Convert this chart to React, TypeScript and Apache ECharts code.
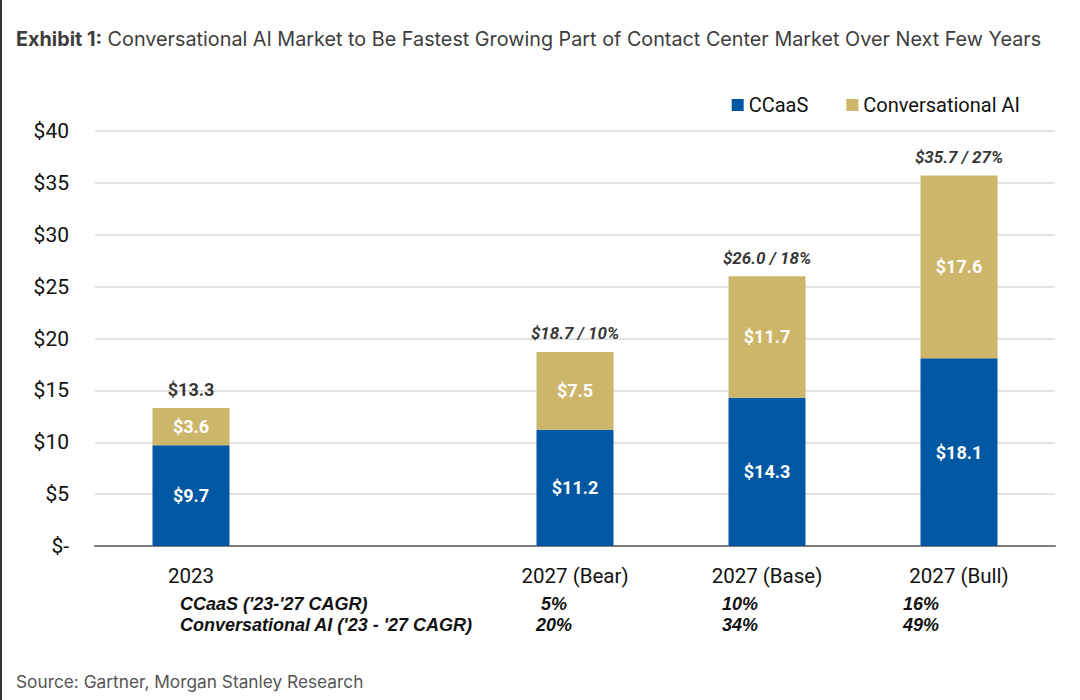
import React, { useEffect, useRef } from "react";
import * as echarts from "echarts";

const categories = ["2023", "", "2027 (Bear)", "2027 (Base)", "2027 (Bull)"];
const ccaas = [9.7, null, 11.2, 14.3, 18.1];
const convAI = [3.6, null, 7.5, 11.7, 17.6];
const totals = [13.3, null, 18.7, 26.0, 35.7];
const totalGrowth = [null, null, "10%", "18%", "27%"];
const yTicks = [0, 5, 10, 15, 20, 25, 30, 35, 40];
const cagrRowLabels = ["CCaaS ('23-'27 CAGR)", "Conversational AI ('23 - '27 CAGR)"];
const ccaasCagr = ["5%", "10%", "16%"];
const aiCagr = ["20%", "34%", "49%"];

const NARROW = "Roboto, sans-serif";
const SANS = "'Liberation Sans', Arial, sans-serif";
const BLUE = "#0058A3";
const GOLD = "#CDB56A";

export default function App() {
  const ref = useRef<HTMLDivElement>(null);
  useEffect(() => {
    if (!ref.current) return;
    const chart = echarts.init(ref.current, undefined, { renderer: "svg" });
    const cagrX = [554, 740, 921];
    const cagrFont = `italic bold 18px ${SANS}`;
    const graphics: any[] = [
      { type: "rect", left: 0, top: 0, shape: { width: 2, height: 700 }, style: { fill: "#333" } },
      {
        type: "text",
        x: 16,
        y: 39,
        style: {
          text: "{b|Exhibit 1:} Conversational AI Market to Be Fastest Growing Part of Contact Center Market Over Next Few Years",
          font: "19.8px Inter, sans-serif",
          fill: "#3d3d3d",
          verticalAlign: "middle",
          rich: { b: { fontWeight: "bold", fontSize: 19.8, fontFamily: "Inter, sans-serif", fill: "#3d3d3d" } },
        },
      },
      {
        type: "text",
        x: 16,
        y: 681,
        style: { text: "Source: Gartner, Morgan Stanley Research", font: "17.3px Inter, sans-serif", fill: "#555", verticalAlign: "middle" },
      },
      {
        type: "text",
        x: 180,
        y: 604,
        style: { text: cagrRowLabels[0], font: cagrFont, fill: "#111", verticalAlign: "middle" },
      },
      {
        type: "text",
        x: 180,
        y: 625,
        style: { text: cagrRowLabels[1], font: cagrFont, fill: "#111", verticalAlign: "middle" },
      },
    ];
    ccaasCagr.forEach((t, i) => {
      graphics.push({
        type: "text",
        x: cagrX[i],
        y: 604,
        style: { text: t, font: cagrFont, fill: "#111", align: "center", verticalAlign: "middle" },
      });
    });
    aiCagr.forEach((t, i) => {
      graphics.push({
        type: "text",
        x: cagrX[i],
        y: 625,
        style: { text: t, font: cagrFont, fill: "#111", align: "center", verticalAlign: "middle" },
      });
    });

    const segLabel = {
      show: true,
      position: "inside",
      color: "#fff",
      fontWeight: "bold",
      fontSize: 18,
      fontFamily: NARROW,
      formatter: (p: any) => (p.value == null ? "" : `$${Number(p.value).toFixed(1)}`),
    };

    chart.setOption({
      animation: false,
      graphic: graphics,
      legend: {
        right: 55,
        top: 90,
        itemWidth: 12,
        itemHeight: 12,
        itemGap: 38,
        icon: "rect",
        data: ["CCaaS", "Conversational AI"],
        textStyle: { fontFamily: NARROW, fontSize: 20, color: "#111" },
      },
      grid: { left: 95, right: 25, top: 131, bottom: 154, containLabel: false },
      xAxis: {
        type: "category",
        data: categories,
        axisTick: { show: false },
        axisLine: { lineStyle: { color: "#7f7f7f", width: 2 } },
        axisLabel: { margin: 19, fontFamily: NARROW, fontSize: 20.5, color: "#111" },
      },
      yAxis: {
        type: "value",
        min: yTicks[0],
        max: yTicks[yTicks.length - 1],
        interval: 5,
        splitLine: { lineStyle: { color: "#d9d9d9", width: 1.5 } },
        axisLabel: {
          margin: 26,
          fontFamily: NARROW,
          fontSize: 21,
          color: "#111",
          formatter: (v: number) => (v === 0 ? "$-" : `$${v}`),
        },
      },
      series: [
        {
          name: "CCaaS",
          type: "bar",
          stack: "total",
          barWidth: 77,
          data: ccaas,
          itemStyle: { color: BLUE },
          label: segLabel,
        },
        {
          name: "Conversational AI",
          type: "bar",
          stack: "total",
          barWidth: 77,
          data: convAI,
          itemStyle: { color: GOLD },
          label: segLabel,
        },
        {
          name: "Total",
          type: "scatter",
          data: totals,
          symbolSize: 0,
          silent: true,
          label: {
            show: true,
            position: "top",
            distance: 10,
            formatter: (p: any) => {
              if (p.value == null) return "";
              const g = totalGrowth[p.dataIndex];
              const v = `$${Number(p.value).toFixed(1)}`;
              return g ? `{i|${v} / ${g}}` : `{n|${v}}`;
            },
            rich: {
              i: { fontStyle: "italic", fontWeight: "bold", fontSize: 17, fontFamily: NARROW, color: "#000" },
              n: { fontWeight: "bold", fontSize: 18, fontFamily: NARROW, color: "#000" },
            },
          },
        },
      ],
    });
    return () => chart.dispose();
  }, []);
  return <div ref={ref} style={{ position: "fixed", left: 0, top: 0, width: 1080, height: 700, background: "#fff" }} />;
}
